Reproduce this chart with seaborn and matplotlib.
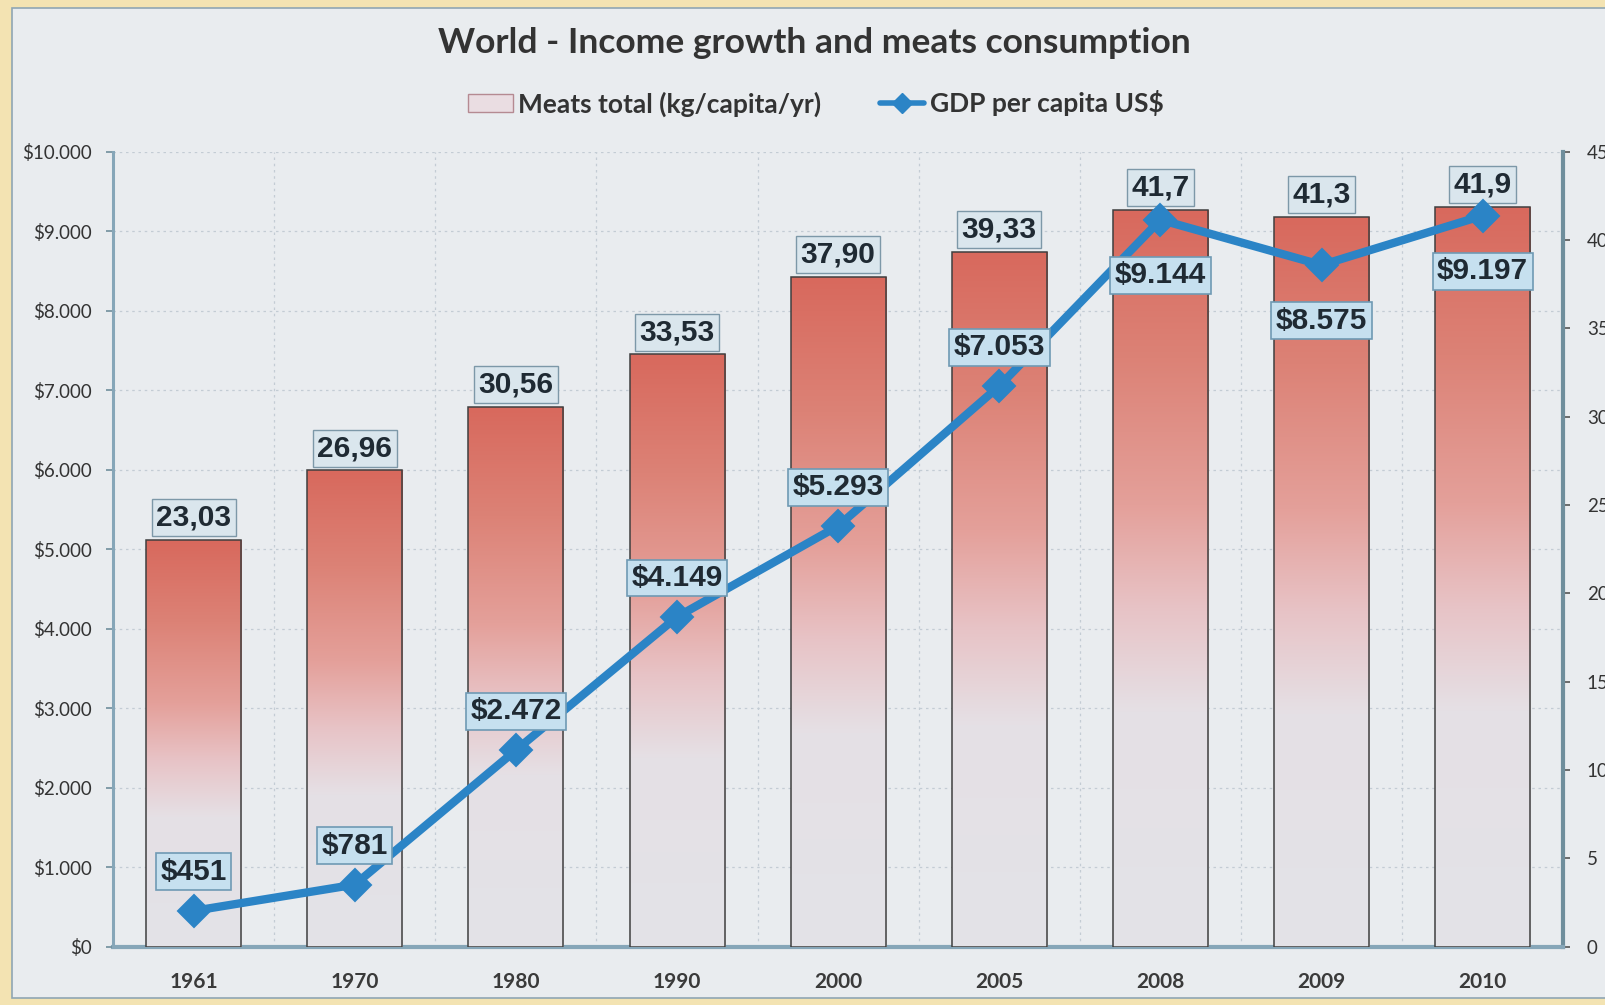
import numpy as np
import matplotlib
matplotlib.use("Agg")
import matplotlib.pyplot as plt
import matplotlib.transforms as mtransforms
from matplotlib.colors import LinearSegmentedColormap
from matplotlib.patches import Rectangle, Patch
from matplotlib.lines import Line2D
import seaborn as sns

years = ["1961", "1970", "1980", "1990", "2000", "2005", "2008", "2009", "2010"]
meat = [23.03, 26.96, 30.56, 33.53, 37.90, 39.33, 41.7, 41.3, 41.9]
meat_labels = ["23,03", "26,96", "30,56", "33,53", "37,90", "39,33", "41,7", "41,3", "41,9"]
gdp = [451, 781, 2472, 4149, 5293, 7053, 9144, 8575, 9197]
gdp_labels = ["$451", "$781", "$2.472", "$4.149", "$5.293", "$7.053", "$9.144", "$8.575", "$9.197"]
gdp_ticks = [0, 1000, 2000, 3000, 4000, 5000, 6000, 7000, 8000, 9000, 10000]
gdp_tick_labels = ["$0", "$1.000", "$2.000", "$3.000", "$4.000", "$5.000",
                   "$6.000", "$7.000", "$8.000", "$9.000", "$10.000"]
meat_ticks = [0, 5, 10, 15, 20, 25, 30, 35, 40, 45]
meat_tick_labels = ["0", "5", "10", "15", "20", "25", "30", "35", "40", "45"]
title = "World - Income growth and meats consumption"
meat_name = "Meats total (kg/capita/yr)"
gdp_name = "GDP per capita US$"

sns.set_theme(style="white")
plt.rcParams["font.family"] = ["Lato", "DejaVu Sans"]

panel_bg = "#e9ecef"
fig = plt.figure(figsize=(16.06, 10.05), dpi=100, facecolor="#f3e3b2")
fig.patches.append(Rectangle((0.0075, 0.007), 1.0, 0.985, transform=fig.transFigure,
                             facecolor=panel_bg, edgecolor="#8fa6b4", linewidth=1.2, zorder=-5))

ax = fig.add_axes([0.0704, 0.058, 0.9030, 0.791])
ax.set_facecolor("none")
ax2 = ax.twinx()
ax2.set_facecolor("none")

# bars (right axis scale)
sns.barplot(x=years, y=meat, ax=ax, width=0.59, color="#d8756b",
            edgecolor="#3f3f3f", linewidth=1.1, saturation=1, zorder=3)
ax.set_ylim(0, 45)
ax.set_xlim(-0.5, len(years) - 0.5)

cmap = LinearSegmentedColormap.from_list("meat", [
    (0.0, "#e3e3e8"), (0.32, "#e5e0e5"), (0.46, "#e8c3c6"),
    (0.60, "#e4a09a"), (0.80, "#dc8276"), (1.0, "#d8695d")])
grad = np.linspace(0, 1, 256).reshape(-1, 1)
for p in list(ax.patches):
    x0, y0 = p.get_x(), p.get_y()
    w, h = p.get_width(), p.get_height()
    im = ax.imshow(grad, cmap=cmap, origin="lower", aspect="auto",
                   extent=(x0, x0 + w, y0, y0 + h), zorder=3.5)
    im.set_clip_path(p)
    p.set_facecolor("none")
    p.set_zorder(4)
ax.set_ylim(0, 45)
ax.set_xlim(-0.5, len(years) - 0.5)

ax.bar_label(ax.containers[0], labels=meat_labels, padding=6, fontsize=21.5,
             fontweight="bold", color="#1f2a33", family=["Liberation Sans"],
             bbox=dict(boxstyle="square,pad=0.15", facecolor="#dae6ed",
                       edgecolor="#7d98a8", linewidth=1.0), zorder=6)

# gridlines (faint)
blend = mtransforms.blended_transform_factory(ax.transAxes, ax2.transData)
ax.hlines(gdp_ticks[1:], 0, 1, transform=blend, colors="#c3ccd4",
          linestyles=(0, (2, 3)), linewidth=0.9, zorder=1)
for i in range(len(years) - 1):
    ax.axvline(i + 0.5, color="#c3ccd4", linestyle=(0, (2, 3)), linewidth=0.9, zorder=1)

# line (left axis scale)
sns.pointplot(x=years, y=gdp, ax=ax2, color="#2b84c6", markers="D",
              markersize=13, linewidth=6, errorbar=None)
ax2.set_ylim(0, 10000)
ax2.set_xlim(-0.5, len(years) - 0.5)

for i, (lab, v) in enumerate(zip(gdp_labels, gdp)):
    off = 28 if i < 6 else -40
    ax2.annotate(lab, (i, v), xytext=(0, off), textcoords="offset points",
                 ha="center", va="center", fontsize=21.5, fontweight="bold",
                 color="#1f2a33", family=["Liberation Sans"], zorder=8,
                 bbox=dict(boxstyle="square,pad=0.15", facecolor="#c6e0ef",
                           edgecolor="#6f9ab4", linewidth=1.2))

# axes styling: line axis on the left, bar axis on the right
ax.yaxis.tick_right()
ax.yaxis.set_label_position("right")
ax2.yaxis.tick_left()
ax2.yaxis.set_label_position("left")

ax.set_yticks(meat_ticks)
ax.set_yticklabels(meat_tick_labels)
ax2.set_yticks(gdp_ticks)
ax2.set_yticklabels(gdp_tick_labels)
ax.set_xlabel("")
ax.set_ylabel("")
ax2.set_xlabel("")
ax2.set_ylabel("")

for a in (ax, ax2):
    for s in a.spines.values():
        s.set_visible(False)
ax2.spines["left"].set_visible(True)
ax2.spines["left"].set_color("#86a6b8")
ax2.spines["left"].set_linewidth(2.2)
ax.spines["right"].set_visible(True)
ax.spines["right"].set_color("#6f8e9c")
ax.spines["right"].set_linewidth(3)
ax.spines["bottom"].set_visible(True)
ax.spines["bottom"].set_color("#86a6b8")
ax.spines["bottom"].set_linewidth(3)

ax.tick_params(axis="y", right=True, left=False, length=5, width=1.2,
               color="#555555", labelsize=13.5, labelcolor="#333333", pad=12)
ax2.tick_params(axis="y", left=True, right=False, length=5, width=1.2,
                color="#6f8e9c", labelsize=13.5, labelcolor="#333333", pad=10)
ax.tick_params(axis="x", bottom=False, labelsize=15, labelcolor="#3a3a3a", pad=12)
for t in ax.get_xticklabels():
    t.set_fontweight("bold")
ax2.tick_params(axis="x", bottom=False, labelbottom=False)

fig.text(0.507, 0.957, title, ha="center", va="center", fontsize=25.5,
         fontweight="bold", color="#333333")

handles = [Patch(facecolor="#eadde2", edgecolor="#b58a92", linewidth=1.0),
           Line2D([0], [0], color="#2b84c6", linewidth=4, marker="D", markersize=10)]
leg = fig.legend(handles, [meat_name, gdp_name], loc="center", ncol=2,
                 bbox_to_anchor=(0.508, 0.897), frameon=False, fontsize=19,
                 handlelength=1.7, handletextpad=0.2, columnspacing=2.2)
for t in leg.get_texts():
    t.set_fontweight("bold")
    t.set_color("#333333")

fig.savefig("out.png", dpi=100, facecolor=fig.get_facecolor())
